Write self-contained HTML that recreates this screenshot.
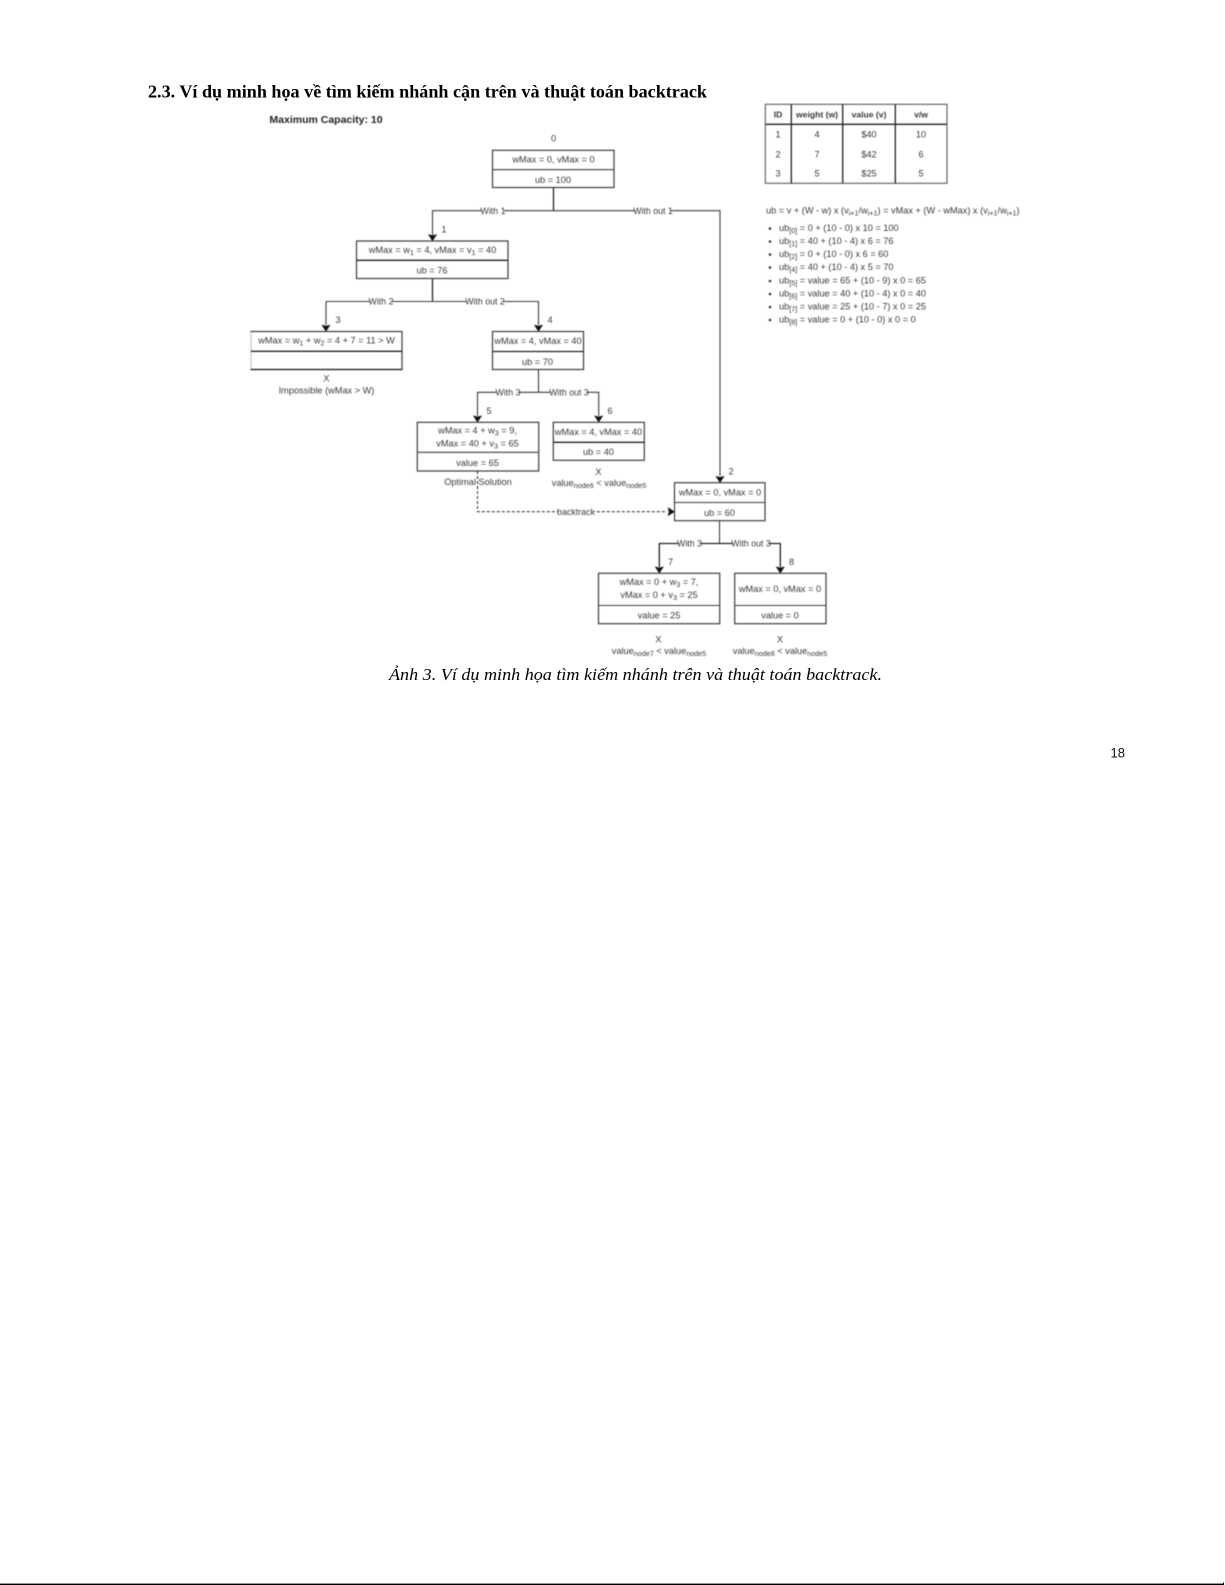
<!DOCTYPE html>
<html>
<head>
<meta charset="utf-8">
<style>
html,body{margin:0;padding:0;background:#fff;width:1225px;height:1585px;overflow:hidden}
svg{position:absolute;left:0;top:0}
#d{filter:blur(.45px)}
#d text{font-family:"Liberation Sans",sans-serif;font-size:9.2px;fill:#3a3a3a;text-anchor:middle}
#d .l{text-anchor:start}
#d .s{font-size:7.2px}
#d .el{font-size:8.8px}
#d rect{fill:#fff;stroke:#3c3c3c;stroke-width:1.2}
#d .w{fill:#fff;stroke:none}
#d .e{fill:none;stroke:#3c3c3c;stroke-width:1.1}
#d .v{fill:none;stroke:#222;stroke-width:1.3}
#d polygon{fill:#111;stroke:#111;stroke-width:.4}
.t{font-family:"Liberation Serif",serif;fill:#000}
</style>
</head>
<body>
<svg width="1225" height="1585" viewBox="0 0 1225 1585" xmlns="http://www.w3.org/2000/svg">
<text class="t" x="148" y="97.5" font-size="17.5" font-weight="bold" textLength="559" lengthAdjust="spacingAndGlyphs">2.3. Ví dụ minh họa về tìm kiếm nhánh cận trên và thuật toán backtrack</text>
<text class="t" x="389" y="680" font-size="17" font-style="italic" textLength="493" lengthAdjust="spacingAndGlyphs">Ảnh 3. Ví dụ minh họa tìm kiếm nhánh trên và thuật toán backtrack.</text>
<text x="1110.5" y="757.5" font-size="13.5" font-family="'Liberation Sans',sans-serif" fill="#111" textLength="14.5" lengthAdjust="spacingAndGlyphs">18</text>
<rect x="0" y="1583.6" width="1224" height="1.4" fill="#000"/>
<rect x="1223" y="1582.5" width="1" height="1.5" fill="#000"/>

<g id="d">
<text x="326" y="123" style="font-weight:bold;font-size:10.5px;fill:#222">Maximum Capacity: 10</text>

<!-- connectors -->
<path class="v" d="M553.5 187.5V210.7"/>
<path class="e" d="M432.5 235V210.7H720V476"/>
<path class="v" d="M432.5 278.5V301.5"/>
<path class="e" d="M326 325V301.5H538.5V325"/>
<path class="e" d="M538.5 369.5V392.3"/>
<path class="e" d="M477.5 416V392.3H598.7V416"/>
<path class="e" d="M719.5 520.7V543.5"/>
<path class="v" d="M659.3 567V543.5H780.3V567"/>
<path class="e" stroke-dasharray="3 2" d="M477.5 471V511.7H667"/>

<polygon points="432.5,241 428.3,234.5 432.5,235.5 436.7,234.5"/>
<polygon points="326,331.5 321.8,325 326,326 330.2,325"/>
<polygon points="538.5,331.5 534.3,325 538.5,326 542.7,325"/>
<polygon points="477.5,422.3 473.3,415.8 477.5,416.8 481.7,415.8"/>
<polygon points="598.7,422.3 594.5,415.8 598.7,416.8 602.9,415.8"/>
<polygon points="720,482.7 715.8,476.2 720,477.2 724.2,476.2"/>
<polygon points="659.3,573.3 655.1,566.8 659.3,567.8 663.5,566.8"/>
<polygon points="780.3,573.3 776.1,566.8 780.3,567.8 784.5,566.8"/>
<polygon points="674.5,511.7 668,507.5 669,511.7 668,515.9"/>

<!-- edge labels -->
<rect class="w" x="482" y="205" width="22" height="11"/><text class="el" x="493" y="213.8">With 1</text>
<rect class="w" x="635" y="205" width="36" height="11"/><text class="el" x="653" y="213.8">With out 1</text>
<rect class="w" x="370" y="296" width="22" height="11"/><text class="el" x="381" y="304.6">With 2</text>
<rect class="w" x="467" y="296" width="36" height="11"/><text class="el" x="485" y="304.6">With out 2</text>
<rect class="w" x="497" y="387" width="22" height="11"/><text class="el" x="508" y="395.4">With 3</text>
<rect class="w" x="551" y="387" width="36" height="11"/><text class="el" x="569" y="395.4">With out 3</text>
<rect class="w" x="679" y="538" width="22" height="11"/><text class="el" x="689.5" y="546.6">With 3</text>
<rect class="w" x="733" y="538" width="36" height="11"/><text class="el" x="751" y="546.6">With out 3</text>
<rect class="w" x="558" y="506" width="36" height="11"/><text class="el" x="576" y="515">backtrack</text>

<!-- node 0 -->
<rect x="492.5" y="150.3" width="121.5" height="37.2"/>
<path class="e" d="M492.5 169.7H614"/>
<text x="553.5" y="162.5">wMax = 0, vMax = 0</text>
<text x="553" y="182.8">ub = 100</text>
<text x="553.5" y="141.5">0</text>

<!-- node 1 -->
<rect x="356.5" y="241" width="151.5" height="37.5"/>
<path class="v" d="M356.5 260.3H508"/>
<text x="432.5" y="252.8">wMax = w<tspan class="s" dy="2">1</tspan><tspan dy="-2"> = 4, vMax = v</tspan><tspan class="s" dy="2">1</tspan><tspan dy="-2"> = 40</tspan></text>
<text x="432" y="273.5">ub = 76</text>
<text x="444" y="232.5">1</text>

<!-- node 3 -->
<rect x="251" y="331.5" width="151" height="38"/>
<path d="M251 332V369" stroke="#ddd" stroke-width="1.6" fill="none"/>
<path class="v" d="M251 351.3H402M251 369.5H402"/>
<text x="326.5" y="343.5">wMax = w<tspan class="s" dy="2">1</tspan><tspan dy="-2"> + w</tspan><tspan class="s" dy="2">2</tspan><tspan dy="-2"> = 4 + 7 = 11 &gt; W</tspan></text>
<text x="338" y="323">3</text>
<text x="326.5" y="381.5">X</text>
<text x="326.5" y="393.5">Impossible (wMax &gt; W)</text>

<!-- node 4 -->
<rect x="492.5" y="331.5" width="91" height="38"/>
<path class="v" d="M492.5 351.5H583.5"/>
<text x="538" y="344">wMax = 4, vMax = 40</text>
<text x="537.5" y="364.8">ub = 70</text>
<text x="550" y="323">4</text>

<!-- node 5 -->
<rect x="417.3" y="422.3" width="121.4" height="48.7"/>
<path class="e" d="M417.3 452.3H538.7"/>
<text x="477.5" y="433.5">wMax = 4 + w<tspan class="s" dy="2">3</tspan><tspan dy="-2"> = 9,</tspan></text>
<text x="477.5" y="446.5">vMax = 40 + v<tspan class="s" dy="2">3</tspan><tspan dy="-2"> = 65</tspan></text>
<text x="477.5" y="465.8">value = 65</text>
<text x="489" y="414">5</text>
<text x="478" y="484.8">Optimal Solution</text>
<path class="e" stroke-dasharray="3 2" d="M477.5 471V490"/>

<!-- node 6 -->
<rect x="553.3" y="422.3" width="91" height="38"/>
<path class="v" d="M553.3 442.3H644.3"/>
<text x="598.5" y="435">wMax = 4, vMax = 40</text>
<text x="598.5" y="455.2">ub = 40</text>
<text x="610" y="414">6</text>
<text x="598.5" y="475">X</text>
<text x="599" y="486">value<tspan class="s" dy="2">node6</tspan><tspan dy="-2"> &lt; value</tspan><tspan class="s" dy="2">node5</tspan></text>

<!-- node 2 -->
<rect x="674.5" y="482.7" width="90.5" height="38"/>
<path class="e" d="M674.5 502.5H765"/>
<text x="720" y="495.5">wMax = 0, vMax = 0</text>
<text x="719.5" y="515.8">ub = 60</text>
<text x="731" y="474.5">2</text>

<!-- node 7 -->
<rect x="598.5" y="573.3" width="121.2" height="50.4"/>
<path class="e" d="M598.5 605.5H719.7"/>
<text x="659" y="584.8">wMax = 0 + w<tspan class="s" dy="2">3</tspan><tspan dy="-2"> = 7,</tspan></text>
<text x="659" y="598">vMax = 0 + v<tspan class="s" dy="2">3</tspan><tspan dy="-2"> = 25</tspan></text>
<text x="659" y="618.5">value = 25</text>
<text x="670.5" y="565">7</text>
<text x="658.5" y="642.5">X</text>
<text x="659" y="654">value<tspan class="s" dy="2">node7</tspan><tspan dy="-2"> &lt; value</tspan><tspan class="s" dy="2">node5</tspan></text>

<!-- node 8 -->
<rect x="734.7" y="573.3" width="91.3" height="50.4"/>
<path class="e" d="M734.7 605.5H826"/>
<text x="780" y="592">wMax = 0, vMax = 0</text>
<text x="780" y="618.5">value = 0</text>
<text x="791.5" y="565">8</text>
<text x="780" y="642.5">X</text>
<text x="780" y="654">value<tspan class="s" dy="2">node8</tspan><tspan dy="-2"> &lt; value</tspan><tspan class="s" dy="2">node5</tspan></text>

<!-- table -->
<rect x="765.3" y="104.3" width="181.7" height="79" style="stroke:#666"/>
<path class="v" d="M765.3 124.3H947M791.3 104.3V183.3M842.7 104.3V183.3M895.3 104.3V183.3"/>
<g style="font-weight:bold">
<text x="778" y="117.5" style="font-size:8.6px">ID</text>
<text x="817" y="117.5" style="font-size:8.6px">weight (w)</text>
<text x="869" y="117.5" style="font-size:8.6px">value (v)</text>
<text x="921" y="117.5" style="font-size:8.6px">v/w</text>
</g>
<text x="778" y="137.7">1</text><text x="817" y="137.7">4</text><text x="869" y="137.7">$40</text><text x="921" y="137.7">10</text>
<text x="778" y="157.4">2</text><text x="817" y="157.4">7</text><text x="869" y="157.4">$42</text><text x="921" y="157.4">6</text>
<text x="778" y="176.6">3</text><text x="817" y="176.6">5</text><text x="869" y="176.6">$25</text><text x="921" y="176.6">5</text>

<!-- formula -->
<text class="l" x="766" y="213.5">ub = v + (W - w) x (v<tspan class="s" dy="2">i+1</tspan><tspan dy="-2">/w</tspan><tspan class="s" dy="2">i+1</tspan><tspan dy="-2">) = vMax + (W - wMax) x (v</tspan><tspan class="s" dy="2">i+1</tspan><tspan dy="-2">/w</tspan><tspan class="s" dy="2">i+1</tspan><tspan dy="-2">)</tspan></text>
<g>
<circle cx="770" cy="228.5" r="1.3" fill="#333"/>
<circle cx="770" cy="241.5" r="1.3" fill="#333"/>
<circle cx="770" cy="254.5" r="1.3" fill="#333"/>
<circle cx="770" cy="267.5" r="1.3" fill="#333"/>
<circle cx="770" cy="281" r="1.3" fill="#333"/>
<circle cx="770" cy="294" r="1.3" fill="#333"/>
<circle cx="770" cy="307" r="1.3" fill="#333"/>
<circle cx="770" cy="320" r="1.3" fill="#333"/>
</g>
<text class="l" x="779" y="231">ub<tspan class="s" dy="2">[0]</tspan><tspan dy="-2"> = 0 + (10 - 0) x 10 = 100</tspan></text>
<text class="l" x="779" y="244">ub<tspan class="s" dy="2">[1]</tspan><tspan dy="-2"> = 40 + (10 - 4) x 6 = 76</tspan></text>
<text class="l" x="779" y="257">ub<tspan class="s" dy="2">[2]</tspan><tspan dy="-2"> = 0 + (10 - 0) x 6 = 60</tspan></text>
<text class="l" x="779" y="270">ub<tspan class="s" dy="2">[4]</tspan><tspan dy="-2"> = 40 + (10 - 4) x 5 = 70</tspan></text>
<text class="l" x="779" y="283.3">ub<tspan class="s" dy="2">[5]</tspan><tspan dy="-2"> = value = 65 + (10 - 9) x 0 = 65</tspan></text>
<text class="l" x="779" y="296.6">ub<tspan class="s" dy="2">[6]</tspan><tspan dy="-2"> = value = 40 + (10 - 4) x 0 = 40</tspan></text>
<text class="l" x="779" y="309.4">ub<tspan class="s" dy="2">[7]</tspan><tspan dy="-2"> = value = 25 + (10 - 7) x 0 = 25</tspan></text>
<text class="l" x="779" y="322.6">ub<tspan class="s" dy="2">[8]</tspan><tspan dy="-2"> = value = 0 + (10 - 0) x 0 = 0</tspan></text>
</g>
</svg>
</body>
</html>
